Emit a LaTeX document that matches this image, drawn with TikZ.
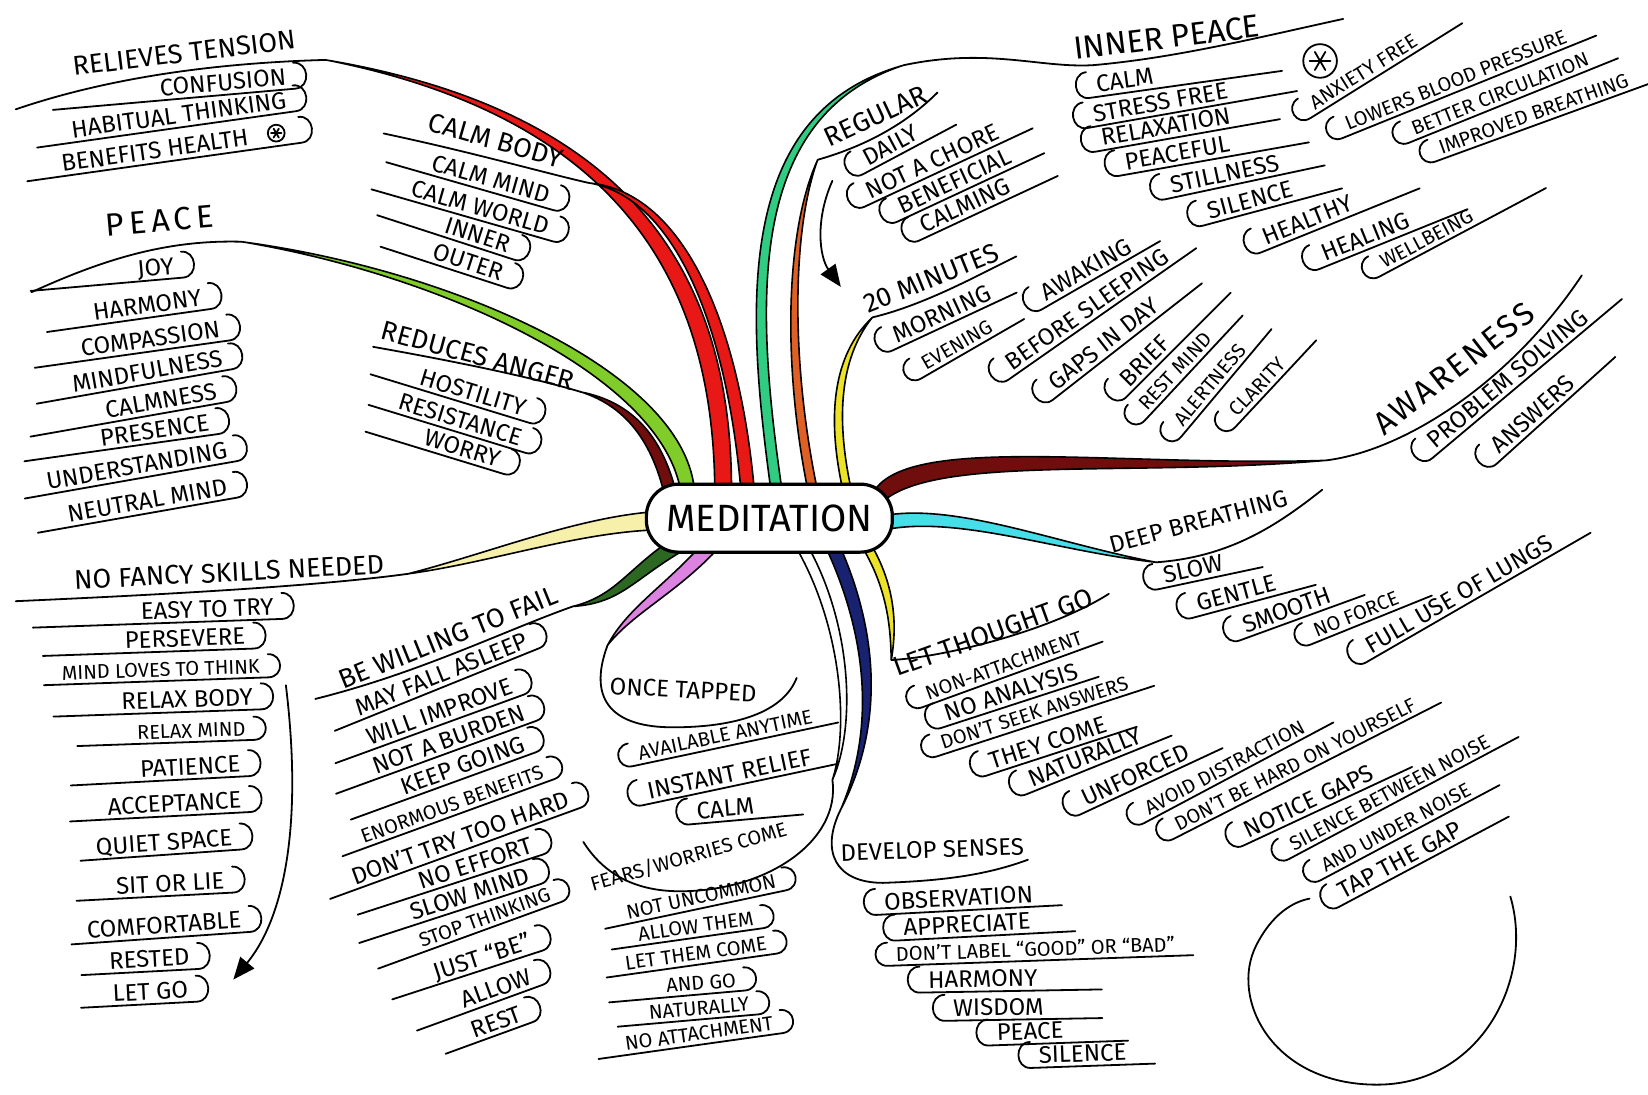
\documentclass[tikz,border=0pt]{standalone}
\usepackage{fontspec}
\setmainfont{Fira Sans}
\usetikzlibrary{calc,arrows.meta}
\pgfdeclarelayer{back}
\pgfsetlayers{back,main}
\definecolor{brRed}{RGB}{232,24,22}
\definecolor{brGreen}{RGB}{128,204,40}
\definecolor{brMaroon}{RGB}{112,14,14}
\definecolor{brTeal}{RGB}{48,204,130}
\definecolor{brOrange}{RGB}{222,96,36}
\definecolor{brYellow}{RGB}{236,226,40}
\definecolor{brCyan}{RGB}{70,222,232}
\definecolor{brPale}{RGB}{246,240,170}
\definecolor{brDkGreen}{RGB}{44,104,34}
\definecolor{brPink}{RGB}{220,130,224}
\definecolor{brNavy}{RGB}{24,34,112}
\tikzset{
  itm/.style={inner xsep=4pt, inner ysep=2pt, text height=8.6pt, text depth=0pt, font=\fontsize{12}{12}\selectfont},
  sml/.style={itm, text height=7.2pt, font=\fontsize{10}{10}\selectfont},
  hdr/.style={itm, text height=9.8pt, font=\fontsize{13.5}{14}\selectfont},
  big/.style={itm, text height=11.5pt, font=\fontsize{16}{16}\selectfont},
  tabline/.style={line width=0.9pt, line cap=round, line join=round},
  uline/.style={line width=0.9pt, line cap=round},
}
% tab under an item, round hook on the right / on the left
\newcommand\tabR[2][6pt]{\draw[tabline] ($(#2.south west)!-#1!(#2.south east)$) -- (#2.south east)
  .. controls ($(#2.south east)!-8pt!(#2.south west)$) and ($(#2.north east)!-8pt!(#2.north west)$) .. (#2.north east);}
\newcommand\tabL[2][6pt]{\draw[tabline] (#2.north west)
  .. controls ($(#2.north west)!-8pt!(#2.north east)$) and ($(#2.south west)!-8pt!(#2.south east)$) .. (#2.south west)
  -- ($(#2.south east)!-#1!(#2.south west)$);}
% tapered branch: colour, half width, start, control 1, control 2, end
\newcommand\branch[6]{\filldraw[fill=#1, draw=black, line width=0.8pt]
  ($(#3)+(#2)$) .. controls ($(#4)+0.85*(#2)$) and ($(#5)+0.55*(#2)$) .. (#6)
  .. controls ($(#5)-0.55*(#2)$) and ($(#4)-0.85*(#2)$) .. ($(#3)-(#2)$) -- cycle;}
% circled asterisk: centre, radius
\newcommand\starmark[2]{\draw[uline] (#1) circle (#2);
  \foreach \a in {0,60,120} \draw[uline] ($(#1)+(\a:#2*0.62)$) -- ($(#1)+(\a+180:#2*0.62)$);}
\begin{document}
\begin{tikzpicture}[x=0.5256pt, y=-0.5256pt]
\useasboundingbox (0,0) rectangle (1568,1041);

% centre
\node[draw, line width=1.6pt, rounded corners=16pt, fill=white, minimum width=123pt, minimum height=34pt,
  font=\fontsize{19}{19}\selectfont] (med) at (732,493) {MEDITATION};

% joints where branches meet their headers
\coordinate (tj) at (310,57);
\coordinate (pj) at (230,230);
\coordinate (cbj) at (560,174);
\coordinate (raj) at (553,373);
\coordinate (ipj) at (860,62);
\coordinate (rj) at (778,152);
\coordinate (mj) at (830,302);
\coordinate (awj) at (1262,438);
\coordinate (dbj) at (1100,535);
\coordinate (nfj) at (388,546);
\coordinate (bwj) at (545,577);
\coordinate (otj) at (578,614);
\coordinate (fwj) at (792,742);
\coordinate (dsj) at (800,770);
\coordinate (ltj) at (848,628);

\begin{pgfonlayer}{back}
\branch{brGreen}{6,-5}{655,475}{650,360}{430,260}{pj}
\branch{brRed}{8,-6}{688,475}{690,270}{600,110}{tj}
\branch{brRed}{6,-5}{712,475}{700,320}{650,185}{cbj}
\branch{brMaroon}{5,-4}{640,480}{628,420}{600,385}{raj}
\branch{brTeal}{6,5}{740,475}{715,300}{700,110}{ipj}
\branch{brOrange}{5,2}{775,475}{748,350}{750,220}{rj}
\branch{brYellow}{5,4}{808,475}{790,400}{795,340}{mj}
\branch{brMaroon}{0,10}{830,480}{860,420}{1060,450}{awj}
\branch{brCyan}{0,7}{830,500}{900,480}{1000,520}{dbj}
\branch{brPale}{0,9}{640,495}{560,495}{470,530}{nfj}
\branch{brDkGreen}{3,7}{650,515}{600,545}{590,570}{bwj}
\branch{brPink}{5,5}{680,515}{640,560}{600,580}{otj}
\branch{white}{6,0}{760,515}{805,590}{812,690}{fwj}
\branch{brNavy}{7,0}{790,515}{830,600}{838,690}{dsj}
\branch{brYellow}{5,0}{822,515}{850,560}{850,600}{ltj}
\end{pgfonlayer}

% RELIEVES TENSION
\node[hdr, rotate=7] (tension) at (175,50) {RELIEVES TENSION};
\draw[uline] (15,104) .. controls (100,75) and (200,60) .. (tj);
\node[itm, rotate=5] (confusion) at (212,78) {CONFUSION}; \tabR[50pt]{confusion}
\node[itm, rotate=8] (habitual) at (170,109) {HABITUAL THINKING}; \tabR[14pt]{habitual}
\node[itm, rotate=8] (health) at (168,140) {BENEFITS HEALTH\hspace*{22pt}}; \tabR[14pt]{health}
\coordinate (star1) at ($(health.east)!12pt!(health.west)$);
\starmark{star1}{8}

% PEACE
\node[big, rotate=5] (peace) at (152,210) {\addfontfeature{LetterSpace=15}PEACE};
\draw[uline] (30,278) .. controls (100,246) and (160,228) .. (pj);
\node[itm, rotate=5] (joy) at (148,254) {JOY}; \tabR[50pt]{joy}
\node[itm, rotate=8] (harmony) at (140,290) {HARMONY}; \tabR[20pt]{harmony}
\node[itm, rotate=8] (compassion) at (143,322) {COMPASSION}; \tabR[20pt]{compassion}
\node[itm, rotate=10] (mindful) at (140,353) {MINDFULNESS}; \tabR[15pt]{mindful}
\node[itm, rotate=10] (calmness) at (153,381) {CALMNESS}; \tabR[35pt]{calmness}
\node[itm, rotate=8] (presence) at (147,409) {PRESENCE}; \tabR[35pt]{presence}
\node[itm, rotate=10] (understand) at (130,443) {UNDERSTANDING}; \tabR[8pt]{understand}
\node[itm, rotate=10] (neutral) at (140,476) {NEUTRAL MIND}; \tabR[12pt]{neutral}

% CALM BODY
\node[hdr, rotate=-16] (calmbody) at (472,133) {CALM BODY};
\draw[uline] (365,127) .. controls (450,145) and (520,165) .. (cbj);
\node[itm, rotate=-16] (calmmind) at (467,170) {CALM MIND}; \tabR[18pt]{calmmind}
\node[itm, rotate=-16] (calmworld) at (457,197) {CALM WORLD}; \tabR[15pt]{calmworld}
\node[itm, rotate=-18] (innr) at (455,223) {INNER}; \tabR[30pt]{innr}
\node[itm, rotate=-18] (outer) at (446,249) {OUTER}; \tabR[22pt]{outer}

% REDUCES ANGER
\node[hdr, rotate=-15] (anger) at (455,338) {REDUCES ANGER};
\draw[uline] (355,330) .. controls (440,345) and (510,360) .. (raj);
\node[itm, rotate=-17] (hostility) at (450,373) {HOSTILITY}; \tabR[20pt]{hostility}
\node[itm, rotate=-17] (resistance) at (438,399) {RESISTANCE}; \tabR[10pt]{resistance}
\node[itm, rotate=-17] (worry) at (440,426) {WORRY}; \tabR[25pt]{worry}

% NO FANCY SKILLS NEEDED
\node[hdr, rotate=3] (nofancy) at (218,544) {NO FANCY SKILLS NEEDED};
\draw[uline] (15,572) .. controls (150,566) and (300,558) .. (nfj);
\node[itm, rotate=2] (easy) at (197,579) {EASY TO TRY}; \tabR[50pt]{easy}
\node[itm, rotate=2] (persevere) at (176,607) {PERSEVERE}; \tabR[37pt]{persevere}
\node[sml, rotate=2] (mindloves) at (153,637) {MIND LOVES TO THINK}; \tabR[5pt]{mindloves}
\node[itm, rotate=2] (relaxbody) at (178,665) {RELAX BODY}; \tabR[30pt]{relaxbody}
\node[sml, rotate=2] (relaxmind) at (182,695) {RELAX MIND}; \tabR[26pt]{relaxmind}
\node[itm, rotate=3] (patience) at (181,729) {PATIENCE}; \tabR[31pt]{patience}
\node[itm, rotate=3] (acceptance) at (166,764) {ACCEPTANCE}; \tabR[15pt]{acceptance}
\node[itm, rotate=4] (quiet) at (156,801) {QUIET SPACE}; \tabR[4pt]{quiet}
\node[itm, rotate=3] (sitlie) at (162,840) {SIT OR LIE}; \tabR[16pt]{sitlie}
\node[itm, rotate=4] (comfort) at (156,880) {COMFORTABLE}; \tabR[4pt]{comfort}
\node[itm, rotate=3] (rested) at (142,912) {RESTED}; \tabR[10pt]{rested}
\node[itm, rotate=3] (letgo) at (143,943) {LET GO}; \tabR[12pt]{letgo}
\coordinate (fa1) at (272,652);
\coordinate (fa2) at (222,932);
\draw[uline, -{Triangle[length=11pt, width=9pt]}] (fa1) .. controls (290,800) and (265,880) .. (fa2);

% BE WILLING TO FAIL
\node[hdr, rotate=22] (willing) at (426,606) {BE WILLING TO FAIL};
\draw[uline] (300,665) .. controls (400,640) and (480,600) .. (bwj);
\node[itm, rotate=22] (asleep) at (420,641) {MAY FALL ASLEEP}; \tabR[10pt]{asleep}
\node[itm, rotate=20] (improve) at (418,677) {WILL IMPROVE}; \tabR[15pt]{improve}
\node[itm, rotate=20] (burden) at (427,703) {NOT A BURDEN}; \tabR[18pt]{burden}
\node[itm, rotate=20] (keepgoing) at (440,728) {KEEP GOING}; \tabR[25pt]{keepgoing}
\node[sml, rotate=20] (enormous) at (430,765) {ENORMOUS BENEFITS}; \tabR[8pt]{enormous}
\node[itm, rotate=20] (donttry) at (438,797) {DON'T TRY TOO HARD}; \tabR[10pt]{donttry}
\node[itm, rotate=18] (noeffort) at (452,821) {NO EFFORT}; \tabR[30pt]{noeffort}
\node[itm, rotate=18] (slowmind) at (447,850) {SLOW MIND}; \tabR[25pt]{slowmind}
\node[sml, rotate=20] (stopthink) at (461,873) {STOP THINKING}; \tabR[20pt]{stopthink}
\node[itm, rotate=18] (justbe) at (459,910) {JUST ``BE''}; \tabR[20pt]{justbe}
\node[itm, rotate=20] (allow) at (472,940) {ALLOW}; \tabR[22pt]{allow}
\node[itm, rotate=20] (rest) at (472,972) {REST}; \tabR[12pt]{rest}

% ONCE TAPPED
\node[itm, rotate=-3] (tapped) at (650,656) {ONCE TAPPED};
\draw[uline] (otj) .. controls (558,668) and (585,692) .. (640,692) .. controls (700,692) and (745,678) .. (758,645);
\node[sml, rotate=12] (anytime) at (690,699) {AVAILABLE ANYTIME}; \tabL[8pt]{anytime}
\node[itm, rotate=12] (instant) at (694,736) {INSTANT RELIEF}; \tabL[8pt]{instant}
\node[itm, rotate=5] (calmtap) at (690,769) {CALM}; \tabL[20pt]{calmtap}

% FEARS/WORRIES COME
\node[sml, rotate=16] (fears) at (655,815) {FEARS/WORRIES COME};
\draw[uline] (fwj) .. controls (800,800) and (730,848) .. (647,848) .. controls (600,848) and (572,828) .. (555,801);
\node[sml, rotate=12] (uncommon) at (667,853) {NOT UNCOMMON}; \tabR[8pt]{uncommon}
\node[sml, rotate=8] (allowthem) at (662,881) {ALLOW THEM}; \tabR[10pt]{allowthem}
\node[sml, rotate=8] (letcome) at (662,907) {LET THEM COME}; \tabR[6pt]{letcome}
\node[sml, rotate=5] (andgo) at (667,935) {AND GO}; \tabR[25pt]{andgo}
\node[sml, rotate=5] (naturalf) at (665,959) {NATURALLY}; \tabR[12pt]{naturalf}
\node[sml, rotate=8] (noattach) at (665,983) {NO ATTACHMENT}; \tabR[10pt]{noattach}

% DEVELOP SENSES
\node[itm, rotate=2] (senses) at (887,808) {DEVELOP SENSES};
\draw[uline] (dsj) .. controls (780,810) and (795,840) .. (840,840) .. controls (900,838) and (940,832) .. (978,818);
\node[itm, rotate=3] (observe) at (912,854) {OBSERVATION}; \tabL[10pt]{observe}
\node[itm, rotate=3] (appreciate) at (920,879) {APPRECIATE}; \tabL[18pt]{appreciate}
\node[sml, rotate=2] (label) at (985,903) {DON'T LABEL ``GOOD'' OR ``BAD''}; \tabL[5pt]{label}
\node[itm, rotate=1] (harmonyd) at (935,931) {HARMONY}; \tabL[28pt]{harmonyd}
\node[itm, rotate=1] (wisdom) at (950,958) {WISDOM}; \tabL[25pt]{wisdom}
\node[itm, rotate=2] (peaced) at (980,981) {PEACE}; \tabL[28pt]{peaced}
\node[itm, rotate=2] (silenced) at (1030,1002) {SILENCE}; \tabL[10pt]{silenced}

% LET THOUGHT GO
\node[hdr, rotate=20] (thought) at (945,601) {LET THOUGHT GO};
\draw[uline] (ltj) .. controls (900,625) and (1000,600) .. (1055,565);
\node[sml, rotate=20] (nonattach) at (955,633) {NON-ATTACHMENT}; \tabL[5pt]{nonattach}
\node[itm, rotate=18] (noanalysis) at (962,658) {NO ANALYSIS}; \tabL[5pt]{noanalysis}
\node[sml, rotate=18] (seek) at (984,678) {DON'T SEEK ANSWERS}; \tabL[8pt]{seek}
\node[itm, rotate=18] (theycome) at (997,706) {THEY COME}; \tabL[10pt]{theycome}
\node[itm, rotate=22] (naturall) at (1032,720) {NATURALLY}; \tabL[10pt]{naturall}
\node[itm, rotate=25] (unforced) at (1080,737) {UNFORCED}; \tabL[12pt]{unforced}
\node[sml, rotate=28] (avoid) at (1165,730) {AVOID DISTRACTION}; \tabL[10pt]{avoid}
\node[sml, rotate=27] (hard) at (1232,727) {DON'T BE HARD ON YOURSELF}; \tabL[8pt]{hard}
\node[itm, rotate=25] (notice) at (1245,762) {NOTICE GAPS}; \tabL[15pt]{notice}
\node[sml, rotate=28] (between) at (1322,754) {SILENCE BETWEEN NOISE}; \tabL[10pt]{between}
\node[sml, rotate=28] (under) at (1328,787) {AND UNDER NOISE}; \tabL[10pt]{under}
\node[itm, rotate=28] (tap) at (1332,818) {TAP THE GAP}; \tabL[20pt]{tap}
\draw[uline] (1437,853) .. controls (1460,930) and (1410,1032) .. (1310,1032)
  .. controls (1210,1032) and (1170,950) .. (1195,900) .. controls (1210,870) and (1230,858) .. (1246,855);

% DEEP BREATHING
\node[itm, rotate=15] (deep) at (1140,496) {DEEP BREATHING};
\draw[uline] (dbj) .. controls (1170,530) and (1215,500) .. (1258,466);
\node[itm, rotate=12] (slow) at (1135,541) {SLOW}; \tabL[15pt]{slow}
\node[itm, rotate=15] (gentle) at (1176,564) {GENTLE}; \tabL[15pt]{gentle}
\node[itm, rotate=20] (smooth) at (1224,580) {SMOOTH}; \tabL[12pt]{smooth}
\node[sml, rotate=22] (noforce) at (1290,584) {NO FORCE}; \tabL[12pt]{noforce}
\node[itm, rotate=30] (lungs) at (1388,565) {FULL USE OF LUNGS}; \tabL[15pt]{lungs}

% AWARENESS
\node[big, rotate=38] (aware) at (1383,350) {\addfontfeature{LetterSpace=8}AWARENESS};
\draw[uline] (awj) .. controls (1340,428) and (1440,360) .. (1505,262);
\node[itm, rotate=40] (problem) at (1434,360) {PROBLEM SOLVING}; \tabL[15pt]{problem}
\node[itm, rotate=42] (answers) at (1458,394) {ANSWERS}; \tabL[20pt]{answers}

% 20 MINUTES
\node[hdr, rotate=22] (mins) at (886,264) {20 MINUTES};
\draw[uline] (mj) .. controls (880,290) and (930,262) .. (967,244);
\node[itm, rotate=25] (morning) at (896,298) {MORNING}; \tabL[8pt]{morning}
\node[sml, rotate=30] (evening) at (910,328) {EVENING}; \tabL[12pt]{evening}
\node[itm, rotate=30] (awaking) at (1033,256) {AWAKING}; \tabL[10pt]{awaking}
\node[itm, rotate=35] (sleeping) at (1034,294) {BEFORE SLEEPING}; \tabL[10pt]{sleeping}
\node[itm, rotate=38] (gaps) at (1050,327) {GAPS IN DAY}; \tabL[20pt]{gaps}
\node[itm, rotate=45] (brief) at (1089,343) {BRIEF}; \tabL[35pt]{brief}
\node[sml, rotate=47] (restmind) at (1118,353) {REST MIND}; \tabL[15pt]{restmind}
\node[sml, rotate=50] (alert) at (1151,366) {ALERTNESS}; \tabL[12pt]{alert}
\node[sml, rotate=47] (clarity) at (1196,368) {CLARITY}; \tabL[15pt]{clarity}

% REGULAR
\node[hdr, rotate=25] (regular) at (833,110) {REGULAR};
\draw[uline] (rj) .. controls (820,140) and (860,120) .. (892,88);
\node[itm, rotate=28] (daily) at (847,138) {DAILY}; \tabL[15pt]{daily}
\node[itm, rotate=25] (chore) at (887,153) {NOT A CHORE}; \tabL[12pt]{chore}
\node[itm, rotate=25] (beneficial) at (908,172) {BENEFICIAL}; \tabL[12pt]{beneficial}
\node[itm, rotate=25] (calming) at (918,195) {CALMING}; \tabL[20pt]{calming}
\coordinate (ra1) at (792,172);
\coordinate (ra2) at (800,273);
\draw[uline, -{Triangle[length=11pt, width=9pt]}] (ra1) .. controls (775,210) and (780,245) .. (ra2);

% INNER PEACE
\node[big, rotate=7] (innerpeace) at (1110,35) {INNER PEACE};
\draw[uline] (ipj) .. controls (940,45) and (990,65) .. (1040,62) .. controls (1120,55) and (1200,35) .. (1278,18);
\node[itm, rotate=8] (calmi) at (1070,76) {CALM}; \tabL[60pt]{calmi}
\node[itm, rotate=10] (stress) at (1104,97) {STRESS FREE}; \tabL[30pt]{stress}
\node[itm, rotate=10] (relaxation) at (1109,120) {RELAXATION}; \tabL[20pt]{relaxation}
\node[itm, rotate=10] (peaceful) at (1120,145) {PEACEFUL}; \tabL[35pt]{peaceful}
\node[itm, rotate=12] (stillness) at (1165,165) {STILLNESS}; \tabL[18pt]{stillness}
\node[itm, rotate=15] (silencei) at (1189,190) {SILENCE}; \tabL[20pt]{silencei}
\node[itm, rotate=22] (healthy) at (1244,209) {HEALTHY}; \tabL[30pt]{healthy}
\node[itm, rotate=22] (healing) at (1299,225) {HEALING}; \tabL[25pt]{healing}
\node[sml, rotate=28] (wellbeing) at (1357,227) {WELLBEING}; \tabL[35pt]{wellbeing}
\coordinate (star2) at (1256,58);
\starmark{star2}{16}
\node[sml, rotate=32] (anxiety) at (1297,68) {ANXIETY FREE}; \tabL[20pt]{anxiety}
\node[sml, rotate=22] (lowers) at (1385,76) {LOWERS BLOOD PRESSURE}; \tabL[10pt]{lowers}
\node[sml, rotate=22] (better) at (1427,89) {BETTER CIRCULATION}; \tabL[10pt]{better}
\node[sml, rotate=20] (improved) at (1459,108) {IMPROVED BREATHING}; \tabL[10pt]{improved}
\end{tikzpicture}
\end{document}
